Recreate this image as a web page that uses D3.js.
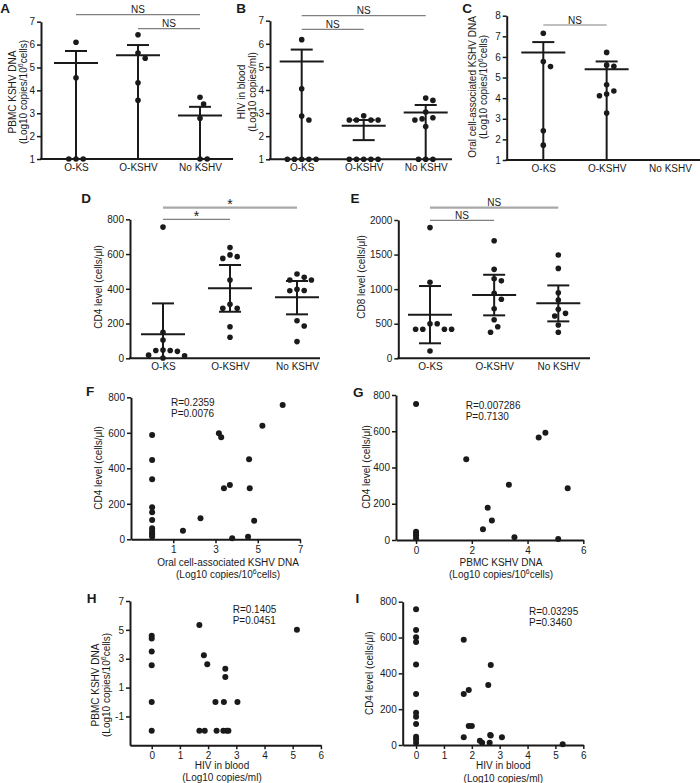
<!DOCTYPE html>
<html><head><meta charset="utf-8">
<script src="https://cdn.jsdelivr.net/npm/d3@7"></script>
<style>
body{margin:0;background:#fff}
text{font-family:"Liberation Sans",Arial,Helvetica,sans-serif;fill:#1a1a1a}
</style>
</head><body>
<svg id="c" width="700" height="783"></svg>
<script>
// ---------------- DATA ----------------
const groups = ["O-KS", "O-KSHV", "No KSHV"];

// A: PBMC KSHV DNA
const aValues = [[6.1, 4.55, 1, 1, 1], [6.43, 5.63, 5.4, 4.33, 3.57], [3.7, 3.4, 2.78, 1, 1]];
const aMean = [5.2, 5.53, 2.9];
const aHigh = [5.72, 5.98, 3.28];
const aLow = [1, 1, 1];
const aTicks = [1, 2, 3, 4, 5, 6, 7];

// B: HIV in blood
const bValues = [[6.18, 4.05, 2.87, 2.7, 1, 1, 1, 1, 1],
                 [2.7, 2.7, 2.7, 2.7, 2.88, 1, 1, 1, 1, 1],
                 [3.65, 3.55, 3.05, 2.8, 2.75, 2.7, 2.42, 1, 1, 1]];
const bMean = [5.23, 2.45, 3.03];
const bHigh = [5.75, 2.7, 3.35];
const bLow = [1, 1.83, 1];
const bTicks = [1, 2, 3, 4, 5, 6, 7];

// C: Oral cell-associated KSHV DNA
const cValues = [[7.15, 5.78, 5.53, 2.42, 1.72], [6.22, 5.6, 5.55, 4.65, 4.35, 4.2, 4.12, 3.28], []];
const cMean = [6.22, 5.4, null];
const cHigh = [6.72, 5.78, null];
const cLow = [1, 1, null];
const cTicks = [1, 2, 3, 4, 5, 6, 7, 8];

// D: CD4 level
const dValues = [[755, 150, 105, 40, 45, 45, 48, 15, 18, 2],
                 [637, 595, 575, 585, 451, 311, 288, 288, 182, 121],
                 [485, 451, 451, 466, 397, 389, 390, 216, 186, 96]];
const dMean = [138, 403, 351];
const dHigh = [316, 537, 445];
const dLow = [0, 268, 253];
const dTicks = [0, 200, 400, 600, 800];

// E: CD8 level
const eValues = [[1890, 1100, 500, 500, 420, 420, 420, 420, 105],
                 [1700, 1286, 1120, 1150, 939, 853, 717, 558, 457, 376],
                 [1493, 1300, 948, 842, 708, 650, 611, 481, 376]];
const eMean = [630, 915, 795];
const eHigh = [1045, 1208, 1054];
const eLow = [217, 621, 534];
const eTicks = [0, 500, 1000, 1500, 2000];

// F: oral KSHV DNA vs CD4
const fX = [0, 0, 0, 0, 0, 0, 0, 0, 0, 0, 0, 1.46, 2.29, 3.16, 3.27, 3.40, 3.68, 3.79, 4.59, 4.62, 4.54, 4.83, 5.22, 6.18];
const fY = [588, 447, 338, 180, 152, 109, 62, 47, 34, 24, 15, 48, 118, 597, 575, 287, 306, 6, 451, 287, 15, 105, 640, 757];
const fXTicks = [1, 3, 5, 7];
const fYTicks = [0, 200, 400, 600, 800];

// G: PBMC KSHV DNA vs CD4
const gX = [0, 0, 0, 0, 0, 1.80, 2.40, 2.57, 2.72, 3.33, 3.53, 4.40, 4.64, 5.10, 5.44];
const gY = [750, 45, 35, 25, 10, 445, 59, 178, 107, 305, 15, 566, 592, 5, 285];
const gXTicks = [0, 2, 4, 6];
const gYTicks = [0, 200, 400, 600, 800];

// H: HIV vs PBMC KSHV DNA
const hX = [0, 0, 0, 0, 0, 0, 1.69, 1.85, 1.97, 1.69, 1.88, 2.26, 2.30, 2.61, 2.61, 2.56, 2.54, 2.66, 2.72, 3.04, 5.15];
const hY = [4.6, 4.4, 3.5, 2.55, 0, -2, 5.34, 3.24, 2.61, -2, -2, 0, -2, 2.31, 1.73, 0, -2, -2, -2, 0, 5.0];
const hXTicks = [0, 1, 2, 3, 4, 5, 6];
const hYTicks = [-1, 1, 3, 5, 7];

// I: HIV vs CD4
const iX = [0, 0, 0, 0, 0, 0, 0, 0, 0, 0, 0, 0, 1.71, 1.71, 1.89, 1.89, 2.0, 1.71, 2.29, 2.37, 2.59, 2.68, 2.66, 2.68, 2.64, 3.08, 5.26];
const iY = [758, 642, 602, 575, 449, 285, 180, 158, 117, 46, 32, 13, 587, 285, 307, 106, 106, 43, 24, 13, 335, 447, 56, 53, 13, 43, 4];
const iXTicks = [0, 1, 2, 3, 4, 5, 6];
const iYTicks = [0, 200, 400, 600, 800];

// ---------------- DRAWING ----------------
const svg = d3.select("#c");
const INK = "#1a1a1a";
const FS_TICK = 10, FS_LAB = 10, FS_PANEL = 13.5;
const fmt = d => (d < 0 ? "-" + Math.abs(d) : String(d));

function styleAxis(g) {
  g.select(".domain").attr("stroke", INK).attr("stroke-width", 2);
  g.selectAll(".tick line").attr("stroke", INK).attr("stroke-width", 1.5);
  g.selectAll(".tick text").attr("font-size", FS_TICK).attr("fill", INK)
    .attr("font-family", '"Liberation Sans",Arial,sans-serif');
}

// multi-part text: parts = [[str, isSup], ...]
function addParts(t, parts) {
  let prevSup = false;
  parts.forEach(p => {
    if (p[1]) {
      t.append("tspan").attr("font-size", 7).attr("dy", -4).text(p[0]);
      prevSup = true;
    } else {
      const ts = t.append("tspan").text(p[0]);
      if (prevSup) ts.attr("dy", 4);
      prevSup = false;
    }
  });
}
function vLabel(x, y, parts) {
  const t = svg.append("text").attr("transform", `translate(${x + 3.5},${y}) rotate(-90)`)
    .attr("text-anchor", "middle").attr("font-size", FS_LAB);
  addParts(t, parts);
}
function hLabel(x, y, parts) {
  const t = svg.append("text").attr("x", x).attr("y", y + 3.5)
    .attr("text-anchor", "middle").attr("font-size", FS_LAB);
  addParts(t, parts);
}
function panelLetter(x, y, s) {
  svg.append("text").attr("x", x).attr("y", y).attr("font-size", FS_PANEL)
    .attr("font-weight", "bold").attr("text-anchor", "middle").text(s);
}

const log10cells = [["(Log10  copies/10", false], ["6", true], ["cells)", false]];

function swarm(vals, y, d) {
  const order = vals.map((v, i) => i).sort((i, j) => vals[j] - vals[i]);
  const placed = [], off = new Array(vals.length).fill(0);
  order.forEach(i => {
    const py = y(vals[i]);
    for (let k = 0; k < 60; k++) {
      const o = k === 0 ? 0 : (k % 2 === 1 ? 1 : -1) * Math.ceil(k / 2) * d / 2;
      if (placed.every(p => Math.hypot(p.x - o, p.y - py) >= d)) {
        off[i] = o; placed.push({x: o, y: py}); break;
      }
    }
  });
  return off;
}

function dotPlot(o) {
  const y = d3.scaleLinear().domain(o.yDomain).range([o.bottom, o.top]);
  const x = d3.scalePoint().domain(groups).range([o.c0, o.c1]);
  const g = svg.append("g");
  g.append("g").attr("transform", `translate(${o.left},0)`)
    .call(d3.axisLeft(y).tickValues(o.yTicks).tickFormat(fmt).tickSize(4).tickPadding(2).tickSizeOuter(0))
    .call(styleAxis);
  const xa = g.append("g").attr("transform", `translate(0,${o.bottom})`)
    .call(d3.axisBottom(x).tickSize(0).tickPadding(4.5));
  xa.select(".domain").remove();
  styleAxis(xa);
  g.append("line").attr("x1", o.left - 1).attr("x2", o.right)
    .attr("y1", o.bottom).attr("y2", o.bottom).attr("stroke", INK).attr("stroke-width", 2);

  groups.forEach((c, gi) => {
    const cx = x(c);
    if (o.mean[gi] != null) {
      const eb = g.append("g").attr("stroke", INK).attr("stroke-width", 2);
      eb.append("line").attr("x1", cx).attr("x2", cx).attr("y1", y(o.low[gi])).attr("y2", y(o.high[gi]));
      eb.append("line").attr("x1", cx - 22).attr("x2", cx + 22).attr("y1", y(o.mean[gi])).attr("y2", y(o.mean[gi]));
      eb.append("line").attr("x1", cx - 11).attr("x2", cx + 11).attr("y1", y(o.high[gi])).attr("y2", y(o.high[gi]));
      if (o.low[gi] > o.yDomain[0])
        eb.append("line").attr("x1", cx - 11).attr("x2", cx + 11).attr("y1", y(o.low[gi])).attr("y2", y(o.low[gi]));
    }
    const vals = o.values[gi];
    const off = swarm(vals, y, 7.2);
    g.selectAll(null).data(vals).join("circle")
      .attr("cx", (v, i) => cx + off[i]).attr("cy", v => y(v)).attr("r", 2.8).attr("fill", INK);
  });

  o.sig.forEach(s => {
    g.append("line").attr("x1", x(s.from)).attr("x2", x(s.to)).attr("y1", s.y).attr("y2", s.y)
      .attr("stroke", s.heavy ? "#a8a8a8" : "#808080").attr("stroke-width", s.heavy ? 2.2 : 1.2);
    const star = s.label === "*";
    g.append("text").attr("x", (x(s.from) + x(s.to)) / 2).attr("y", star ? s.y + 1.5 : s.y - 1.5)
      .attr("text-anchor", "middle").attr("font-size", star ? 14 : 10).text(s.label);
  });
}

function scatter(o) {
  const x = d3.scaleLinear().domain(o.xDomain).range(o.xRange);
  const y = d3.scaleLinear().domain(o.yDomain).range(o.yRange);
  const g = svg.append("g");
  g.append("g").attr("transform", `translate(${o.xRange[0]},0)`)
    .call(d3.axisLeft(y).tickValues(o.yTicks).tickFormat(fmt).tickSize(4).tickPadding(2).tickSizeOuter(0))
    .call(styleAxis);
  g.append("g").attr("transform", `translate(0,${o.yRange[0]})`)
    .call(d3.axisBottom(x).tickValues(o.xTicks).tickFormat(fmt).tickSize(4).tickPadding(2.5).tickSizeOuter(0))
    .call(styleAxis);
  g.selectAll(null).data(o.xs).join("circle")
    .attr("cx", d => x(d)).attr("cy", (d, i) => y(o.ys[i])).attr("r", 3).attr("fill", INK);
  g.append("text").attr("x", o.statX).attr("y", o.statY + 3.5).attr("font-size", FS_LAB).text(o.stats[0]);
  g.append("text").attr("x", o.statX).attr("y", o.statY + 14.5).attr("font-size", FS_LAB).text(o.stats[1]);
}

// ---- Panel A ----
dotPlot({values: aValues, mean: aMean, high: aHigh, low: aLow, yDomain: [1, 7], yTicks: aTicks,
  left: 41, right: 233, top: 21.7, bottom: 159, c0: 76, c1: 200,
  sig: [{from: "O-KS", to: "No KSHV", y: 14.7, label: "NS"}, {from: "O-KSHV", to: "No KSHV", y: 28.7, label: "NS"}]});
panelLetter(5, 13, "A");
vLabel(12.5, 92, [["PBMC KSHV DNA", false]]);
vLabel(23.5, 92, log10cells);

// ---- Panel B ----
dotPlot({values: bValues, mean: bMean, high: bHigh, low: bLow, yDomain: [1, 7], yTicks: bTicks,
  left: 270, right: 452, top: 20.7, bottom: 159.3, c0: 301.7, c1: 425.7,
  sig: [{from: "O-KS", to: "No KSHV", y: 15.7, label: "NS"}, {from: "O-KS", to: "O-KSHV", y: 29.3, label: "NS"}]});
panelLetter(241, 13, "B");
vLabel(241.5, 92, [["HIV in blood", false]]);
vLabel(252.5, 92, [["(Log10 copies/ml)", false]]);

// ---- Panel C ----
dotPlot({values: cValues, mean: cMean, high: cHigh, low: cLow, yDomain: [1, 8], yTicks: cTicks,
  left: 506.7, right: 700, top: 15.7, bottom: 160, c0: 543.3, c1: 670,
  sig: [{from: "O-KS", to: "O-KSHV", y: 25, label: "NS"}]});
panelLetter(467, 13, "C");
vLabel(472.5, 87, [["Oral cell-associated KSHV DNA", false]]);
vLabel(483.5, 87, log10cells);

// ---- Panel D ----
dotPlot({values: dValues, mean: dMean, high: dHigh, low: dLow, yDomain: [0, 800], yTicks: dTicks,
  left: 130, right: 320, top: 219.3, bottom: 358.3, c0: 163, c1: 297,
  sig: [{from: "O-KS", to: "No KSHV", y: 207.7, label: "*", heavy: true}, {from: "O-KS", to: "O-KSHV", y: 219.3, label: "*"}]});
panelLetter(86, 203, "D");
vLabel(98, 287, [["CD4 level (cells/μl)", false]]);

// ---- Panel E ----
dotPlot({values: eValues, mean: eMean, high: eHigh, low: eLow, yDomain: [0, 2000], yTicks: eTicks,
  left: 398.3, right: 590, top: 220, bottom: 358.3, c0: 430, c1: 558.3,
  sig: [{from: "O-KS", to: "No KSHV", y: 207.7, label: "NS", heavy: true}, {from: "O-KS", to: "O-KSHV", y: 220.3, label: "NS"}]});
panelLetter(355, 203, "E");
vLabel(361.7, 277, [["CD8 level (cells/μl)", false]]);

// ---- Panel F ----
scatter({xs: fX, ys: fY, xDomain: [-1, 7], xRange: [131, 300], yDomain: [0, 800], yRange: [539.3, 397.3],
  xTicks: fXTicks, yTicks: fYTicks, statX: 171, statY: 402.7, stats: ["R=0.2359", "P=0.0076"]});
panelLetter(90, 396, "F");
vLabel(98.3, 468, [["CD4 level (cells/μl)", false]]);
hLabel(228, 562.3, [["Oral cell-associated KSHV DNA", false]]);
hLabel(228, 574.3, log10cells);

// ---- Panel G ----
scatter({xs: gX, ys: gY, xDomain: [-0.72, 6], xRange: [396, 583.3], yDomain: [0, 800], yRange: [540, 395],
  xTicks: gXTicks, yTicks: gYTicks, statX: 465.7, statY: 405.3, stats: ["R=0.007286", "P=0.7130"]});
panelLetter(358.3, 397, "G");
vLabel(366.5, 467, [["CD4 level (cells/μl)", false]]);
hLabel(501, 562.3, [["PBMC KSHV DNA", false]]);
hLabel(501, 574.3, log10cells);

// ---- Panel H ----
scatter({xs: hX, ys: hY, xDomain: [-0.77, 6], xRange: [130, 320.9], yDomain: [-3, 7], yRange: [745.3, 601],
  xTicks: hXTicks, yTicks: hYTicks, statX: 232.7, statY: 609.3, stats: ["R=0.1405", "P=0.0451"]});
panelLetter(91.7, 603, "H");
vLabel(95, 685, [["PBMC KSHV DNA", false]]);
vLabel(106.5, 685, log10cells);
hLabel(222, 765, [["HIV in blood", false]]);
hLabel(222, 777.7, [["(Log10 copies/ml)", false]]);

// ---- Panel I ----
scatter({xs: iX, ys: iY, xDomain: [-0.48, 6], xRange: [402.7, 583.3], yDomain: [0, 800], yRange: [745, 601.7],
  xTicks: iXTicks, yTicks: iYTicks, statX: 529, statY: 611.7, stats: ["R=0.03295", "P=0.3460"]});
panelLetter(357.3, 603, "I");
vLabel(369, 673.3, [["CD4 level (cells/μl)", false]]);
hLabel(503.3, 765, [["HIV in blood", false]]);
hLabel(503.3, 778.3, [["(Log10 copies/ml)", false]]);
</script>
</body></html>
